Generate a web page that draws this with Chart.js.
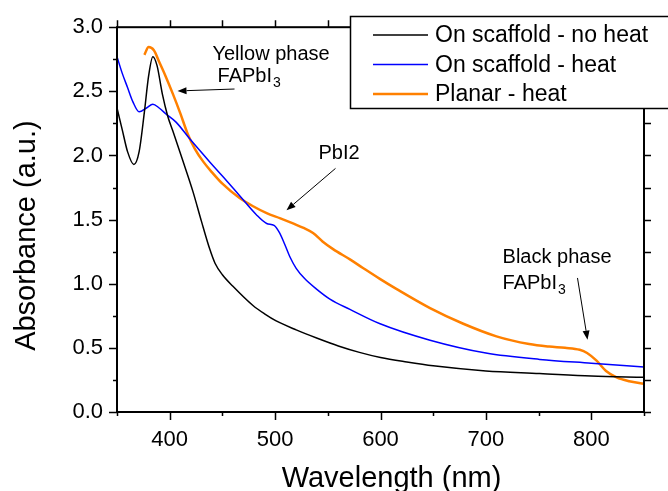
<!DOCTYPE html>
<html>
<head>
<meta charset="utf-8">
<style>
  html, body { margin:0; padding:0; background:#fff; }
  #wrap { width:668px; height:491px; }
</style>
</head>
<body>
<div id="wrap"><canvas id="_chart" width="668" height="491"></canvas></div>

<script src="https://cdn.jsdelivr.net/npm/chart.js"></script>
<script>
var FONT = "'Liberation Sans', Arial, sans-serif";

// On scaffold - no heat
var noHeatX = [350, 355, 360, 366, 371, 376, 380, 384, 388, 393, 398, 403, 412, 422, 430, 438, 443, 450, 460, 479, 490, 501, 520, 540, 560, 580, 600, 625, 650, 700, 751, 800, 850];
var noHeatY = [2.37, 2.20, 2.03, 1.93, 2.03, 2.34, 2.62, 2.77, 2.70, 2.48, 2.31, 2.19, 1.97, 1.72, 1.49, 1.27, 1.16, 1.07, 0.98, 0.83, 0.765, 0.71, 0.64, 0.575, 0.515, 0.465, 0.425, 0.39, 0.36, 0.32, 0.30, 0.28, 0.27];

// On scaffold - heat
var heatX = [350, 355, 360, 365, 371, 378, 384, 390, 397, 406, 419, 438, 450, 466, 482, 492, 499, 504, 509, 514, 520, 528, 539, 552, 571, 599, 647, 700, 751, 800, 850];
var heatY = [2.77, 2.64, 2.53, 2.42, 2.34, 2.37, 2.40, 2.37, 2.32, 2.26, 2.13, 1.95, 1.84, 1.69, 1.54, 1.47, 1.455, 1.40, 1.31, 1.21, 1.12, 1.04, 0.96, 0.88, 0.80, 0.69, 0.56, 0.46, 0.41, 0.38, 0.35];

// Planar - heat
var planarX = [376, 380, 385, 390, 396, 403, 410, 417, 424, 432, 440, 450, 466, 480, 492, 505, 517, 527, 536, 545, 555, 571, 583, 599, 615, 647, 678, 710, 741, 760, 775, 789, 796, 805, 814, 824, 836, 850];
var planarY = [2.785, 2.845, 2.82, 2.73, 2.62, 2.48, 2.33, 2.17, 2.05, 1.95, 1.87, 1.78, 1.67, 1.60, 1.55, 1.51, 1.47, 1.435, 1.395, 1.33, 1.27, 1.19, 1.125, 1.04, 0.96, 0.81, 0.69, 0.59, 0.53, 0.51, 0.50, 0.485, 0.46, 0.40, 0.32, 0.27, 0.24, 0.22];

var seriesNames = ['On scaffold - no heat', 'On scaffold - heat', 'Planar - heat'];
var xTicks = [400, 500, 600, 700, 800];

// annotation text + arrows, in data units (nm, a.u.)
var notes = [
	{ lines: [['Yellow phase', ''], ['FAPbI', '3']], at: [[440.6, 2.744], [445.4, 2.573]], from: [461.5, 2.518], to: [407.4, 2.503] },
	{ lines: [['PbI2', '']], at: [[541.2, 1.976]], from: [557.3, 1.899], to: [510.8, 1.573] },
	{ lines: [['Black phase', ''], ['FAPbI', '3']], at: [[715.8, 1.161], [715.8, 0.960]], from: [786.9, 1.045], to: [796.4, 0.564] },
];

function pts(xs, ys) { return xs.map((x, i) => ({ x: x, y: ys[i] })); }

var frame = {
	id: 'frame',
	afterDatasetsDraw(chart) {
		var ctx = chart.ctx, a = chart.chartArea, sx = chart.scales.x, sy = chart.scales.y;
		ctx.save();
		ctx.strokeStyle = '#000';
		ctx.lineWidth = 1.5;
		ctx.beginPath();
		for (var v = 350; v <= 850; v += 50) {
			var px = Math.round(sx.getPixelForValue(v)) + 0.5;
			var major = v % 100 == 0;
			ctx.moveTo(px, a.bottom); ctx.lineTo(px, a.bottom + (major ? 8 : 4));
			ctx.moveTo(px, a.top); ctx.lineTo(px, a.top - 7);
		}
		for (var w = 0; w <= 3; w += 0.25) {
			var py = Math.round(sy.getPixelForValue(w)) + 0.5;
			var maj = Math.abs(w * 2 - Math.round(w * 2)) < 1e-9;
			ctx.moveTo(a.left, py); ctx.lineTo(a.left - (maj ? 8 : 4), py);
			ctx.moveTo(a.right, py); ctx.lineTo(a.right + 7, py);
		}
		ctx.stroke();
		ctx.lineWidth = 2;
		ctx.strokeRect(a.left, a.top, a.right - a.left, a.bottom - a.top);
		ctx.restore();
	}
};

function arrow(ctx, x1, y1, x2, y2) {
	var ang = Math.atan2(y2 - y1, x2 - x1), L = 9, W = 3.5;
	ctx.beginPath();
	ctx.moveTo(x1, y1);
	ctx.lineTo(x2 - Math.cos(ang) * L, y2 - Math.sin(ang) * L);
	ctx.stroke();
	ctx.beginPath();
	ctx.moveTo(x2, y2);
	ctx.lineTo(x2 - Math.cos(ang) * L - Math.sin(ang) * W, y2 - Math.sin(ang) * L + Math.cos(ang) * W);
	ctx.lineTo(x2 - Math.cos(ang) * L + Math.sin(ang) * W, y2 - Math.sin(ang) * L - Math.cos(ang) * W);
	ctx.closePath();
	ctx.fill();
}

var extras = {
	id: 'extras',
	afterDraw(chart) {
		var ctx = chart.ctx, a = chart.chartArea, sx = chart.scales.x, sy = chart.scales.y;
		ctx.save();
		ctx.fillStyle = '#000';
		ctx.strokeStyle = '#000';
		ctx.textBaseline = 'alphabetic';
		ctx.textAlign = 'left';

		// annotations
		notes.forEach(n => {
			n.lines.forEach((ln, i) => {
				var px = sx.getPixelForValue(n.at[i][0]), py = sy.getPixelForValue(n.at[i][1]);
				ctx.font = '20px ' + FONT;
				ctx.fillText(ln[0], px, py);
				if (ln[1]) {
					var wd = ctx.measureText(ln[0]).width;
					ctx.font = '14px ' + FONT;
					ctx.fillText(ln[1], px + wd + 1, py + 5);
				}
			});
			ctx.lineWidth = 1;
			arrow(ctx, sx.getPixelForValue(n.from[0]), sy.getPixelForValue(n.from[1]),
				sx.getPixelForValue(n.to[0]), sy.getPixelForValue(n.to[1]));
		});

		// axis titles
		ctx.font = '29px ' + FONT;
		ctx.textAlign = 'center';
		ctx.fillText('Wavelength (nm)', (a.left + a.right) / 2 + 11, 487);
		ctx.save();
		ctx.translate(35, (a.top + a.bottom) / 2 + 16);
		ctx.rotate(-Math.PI / 2);
		ctx.fillText('Absorbance (a.u.)', 0, 0);
		ctx.restore();

		// legend
		var lx = 350, ly = 16, lh = 92;
		ctx.fillStyle = '#fff';
		ctx.fillRect(lx, ly, 330, lh);
		ctx.lineWidth = 1.5;
		ctx.strokeStyle = '#000';
		ctx.strokeRect(lx + 0.5, ly + 0.5, 330, lh);
		ctx.textAlign = 'left';
		ctx.textBaseline = 'middle';
		ctx.font = '23px ' + FONT;
		chart.data.datasets.forEach((ds, i) => {
			var yy = ly + 19 + i * 29.5;
			ctx.strokeStyle = ds.borderColor;
			ctx.lineWidth = ds.borderWidth;
			ctx.beginPath();
			ctx.moveTo(373, yy); ctx.lineTo(428, yy);
			ctx.stroke();
			ctx.fillStyle = '#000';
			ctx.fillText(ds.label, 435, yy + 1);
		});
		ctx.restore();
	}
};

var chart = new Chart(_chart, {
	type: 'line',
	data: {
		datasets: [
			{
				data: pts(noHeatX, noHeatY),
				label: seriesNames[0],
				borderColor: '#000000',
				borderWidth: 1.5,
			},
			{
				data: pts(heatX, heatY),
				label: seriesNames[1],
				borderColor: '#0000ff',
				borderWidth: 1.5,
			},
			{
				data: pts(planarX, planarY),
				label: seriesNames[2],
				borderColor: '#ff8000',
				borderWidth: 2.5,
			},
		]
	},
	options: {
		responsive: false,
		animation: false,
		elements: { point: { radius: 0 }, line: { cubicInterpolationMode: 'monotone' } },
		layout: { padding: { left: 0, top: 25, right: 24, bottom: 0 } },
		scales: {
			x: {
				type: 'linear',
				min: 350, max: 850,
				grid: { display: false, drawTicks: false },
				border: { display: false },
				afterBuildTicks: s => { s.ticks = xTicks.map(v => ({ value: v })); },
				afterFit: s => { s.height = 79; },
				ticks: { color: '#000', padding: 15, font: { family: FONT, size: 22 }, maxRotation: 0 },
			},
			y: {
				min: 0, max: 3,
				grid: { display: false, drawTicks: false },
				border: { display: false },
				afterFit: s => { s.width = 117; },
				ticks: { stepSize: 0.5, color: '#000', padding: 14, font: { family: FONT, size: 22 }, callback: v => v.toFixed(1) },
			}
		},
		plugins: {
			legend: { display: false },
			tooltip: { enabled: false },
		}
	},
	plugins: [frame, extras]
});
</script>
</body>
</html>
